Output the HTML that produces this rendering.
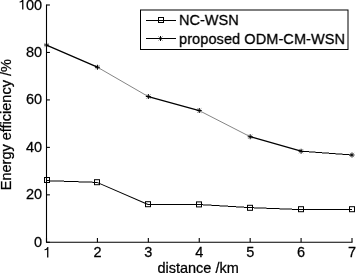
<!DOCTYPE html>
<html><head><meta charset="utf-8"><style>
html,body{margin:0;padding:0;background:#fff;}
svg{display:block;filter:grayscale(1);}
text{font-family:"Liberation Sans",sans-serif;font-size:14.5px;fill:#000;stroke:#000;stroke-width:0.25px;font-variant-ligatures:none;font-feature-settings:"liga" 0,"clig" 0;}
</style></head><body>
<svg width="356" height="273" viewBox="0 0 356 273">
<g transform="scale(1.00001)">
<path d="M46.5 4.5V242.3H352.5" fill="none" stroke="#000" stroke-width="1.1"/>
<path d="M46.5 242.30H49.9" stroke="#000" stroke-width="1.1"/>
<text x="42.2" y="246.70" text-anchor="end">0</text>
<path d="M46.5 194.84H49.9" stroke="#000" stroke-width="1.1"/>
<text x="42.2" y="199.24" text-anchor="end">20</text>
<path d="M46.5 147.38H49.9" stroke="#000" stroke-width="1.1"/>
<text x="42.2" y="151.78" text-anchor="end">40</text>
<path d="M46.5 99.92H49.9" stroke="#000" stroke-width="1.1"/>
<text x="42.2" y="104.32" text-anchor="end">60</text>
<path d="M46.5 52.46H49.9" stroke="#000" stroke-width="1.1"/>
<text x="42.2" y="56.86" text-anchor="end">80</text>
<path d="M46.5 5.00H49.9" stroke="#000" stroke-width="1.1"/>
<path transform="translate(18.01 9.60) scale(0.007080 -0.007080)" d="M763 0L583 0L583 1120Q480 1040 223 1000L223 1150Q420 1190 520 1300Q600 1390 630 1466L763 1466Z"/>
<text x="42.2" y="9.60" text-anchor="end">00</text>
<path d="M46.50 242.3V238" stroke="#000" stroke-width="1.1"/>
<path transform="translate(42.97 257.40) scale(0.007080 -0.007080)" d="M763 0L583 0L583 1120Q480 1040 223 1000L223 1150Q420 1190 520 1300Q600 1390 630 1466L763 1466Z"/>
<path d="M97.42 242.3V238" stroke="#000" stroke-width="1.1"/>
<text x="97.42" y="257.4" text-anchor="middle">2</text>
<path d="M148.33 242.3V238" stroke="#000" stroke-width="1.1"/>
<text x="148.33" y="257.4" text-anchor="middle">3</text>
<path d="M199.25 242.3V238" stroke="#000" stroke-width="1.1"/>
<text x="199.25" y="257.4" text-anchor="middle">4</text>
<path d="M250.17 242.3V238" stroke="#000" stroke-width="1.1"/>
<text x="250.17" y="257.4" text-anchor="middle">5</text>
<path d="M301.08 242.3V238" stroke="#000" stroke-width="1.1"/>
<text x="301.08" y="257.4" text-anchor="middle">6</text>
<path d="M352.00 242.3V238" stroke="#000" stroke-width="1.1"/>
<text x="352.00" y="257.4" text-anchor="middle">7</text>
<text x="198.1" y="272.6" text-anchor="middle">distance /km</text>
<text transform="translate(11 124.7) rotate(-90)" text-anchor="middle">Energy efficiency /%</text>
<path d="M47.0 180.0H50.0V181.0H47.0ZM50.0 180.5H64.0V181.5H50.0ZM64.0 181.0H78.5V182.0H64.0ZM78.5 181.5H92.5V182.5H78.5ZM92.5 182.0H97.0V183.0H92.5Z" fill="#000"/>
<path d="M97 182.4L148 204.5" stroke="#000" stroke-width="1"/>
<path d="M148.0 204.0H199.0V205.0H148.0Z" fill="#000"/>
<path d="M199.0 204.0H203.0V205.0H199.0ZM203.0 204.5H211.5V205.5H203.0ZM211.5 205.0H219.5V206.0H211.5ZM219.5 205.5H228.0V206.5H219.5ZM228.0 206.0H236.0V207.0H228.0ZM236.0 206.5H244.0V207.5H236.0ZM244.0 207.0H250.0V208.0H244.0Z" fill="#000"/>
<path d="M250.0 207.0H254.0V208.0H250.0ZM254.0 207.5H266.5V208.5H254.0ZM266.5 208.0H279.5V209.0H266.5ZM279.5 208.5H292.0V209.5H279.5ZM292.0 209.0H301.0V210.0H292.0Z" fill="#000"/>
<path d="M301.0 209.0H352.0V210.0H301.0Z" fill="#000"/>
<rect x="44.5" y="177.5" width="5" height="5" fill="none" stroke="#000" stroke-width="1"/>
<rect x="94.5" y="179.7" width="5" height="5" fill="none" stroke="#000" stroke-width="1"/>
<rect x="145.5" y="201.7" width="5" height="5" fill="none" stroke="#000" stroke-width="1"/>
<rect x="196.5" y="201.9" width="5" height="5" fill="none" stroke="#000" stroke-width="1"/>
<rect x="247.5" y="205.3" width="5" height="5" fill="none" stroke="#000" stroke-width="1"/>
<rect x="298.5" y="206.7" width="5" height="5" fill="none" stroke="#000" stroke-width="1"/>
<rect x="349.5" y="206.7" width="5" height="5" fill="none" stroke="#000" stroke-width="1"/>
<path d="M46.50 45.10L97.42 67.17" stroke="#000" stroke-width="1.3" stroke-linecap="round"/>
<path d="M97.42 67.17L148.33 96.60" stroke="#666" stroke-width="0.8" stroke-linecap="round"/>
<path d="M148.33 96.60L199.25 110.60" stroke="#000" stroke-width="1.2" stroke-linecap="round"/>
<path d="M199.25 110.60L250.17 136.70" stroke="#666" stroke-width="0.8" stroke-linecap="round"/>
<path d="M250.17 136.70L301.08 151.18" stroke="#000" stroke-width="1.2" stroke-linecap="round"/>
<path d="M301.0 150.5H302.0V151.5H301.0ZM302.0 151.0H309.0V152.0H302.0ZM309.0 151.5H315.5V152.5H309.0ZM315.5 152.0H322.0V153.0H315.5ZM322.0 152.5H329.0V153.5H322.0ZM329.0 153.0H335.5V154.0H329.0ZM335.5 153.5H342.5V154.5H335.5ZM342.5 154.0H349.0V155.0H342.5ZM349.0 154.5H352.0V155.5H349.0Z" fill="#000"/>
<path d="M44.00 45.10H49.00M46.50 42.60V47.60" stroke="#000" stroke-width="1"/><path d="M44.38 42.98L48.62 47.23M44.38 47.23L48.62 42.98" stroke="#000" stroke-opacity="0.5" stroke-width="0.9"/>
<path d="M94.92 67.17H99.92M97.42 64.67V69.67" stroke="#000" stroke-width="1"/><path d="M95.29 65.05L99.54 69.30M95.29 69.30L99.54 65.05" stroke="#000" stroke-opacity="0.5" stroke-width="0.9"/>
<path d="M145.83 96.60H150.83M148.33 94.10V99.10" stroke="#000" stroke-width="1"/><path d="M146.21 94.47L150.46 98.72M146.21 98.72L150.46 94.47" stroke="#000" stroke-opacity="0.5" stroke-width="0.9"/>
<path d="M196.75 110.60H201.75M199.25 108.10V113.10" stroke="#000" stroke-width="1"/><path d="M197.12 108.47L201.38 112.72M197.12 112.72L201.38 108.47" stroke="#000" stroke-opacity="0.5" stroke-width="0.9"/>
<path d="M247.67 136.70H252.67M250.17 134.20V139.20" stroke="#000" stroke-width="1"/><path d="M248.04 134.58L252.29 138.83M248.04 138.83L252.29 134.58" stroke="#000" stroke-opacity="0.5" stroke-width="0.9"/>
<path d="M298.58 151.18H303.58M301.08 148.68V153.68" stroke="#000" stroke-width="1"/><path d="M298.96 149.05L303.21 153.30M298.96 153.30L303.21 149.05" stroke="#000" stroke-opacity="0.5" stroke-width="0.9"/>
<path d="M349.50 154.97H354.50M352.00 152.47V157.47" stroke="#000" stroke-width="1"/><path d="M349.88 152.85L354.12 157.10M349.88 157.10L354.12 152.85" stroke="#000" stroke-opacity="0.5" stroke-width="0.9"/>
<rect x="140.5" y="10" width="207.5" height="39.5" fill="#fff" stroke="#000" stroke-width="1"/>
<path d="M146 20.5H176" stroke="#000" stroke-width="1"/>
<rect x="158.5" y="17.5" width="5" height="5" fill="none" stroke="#000" stroke-width="1"/>
<text x="179.1" y="25">NC-WSN</text>
<path d="M146 38.5H176" stroke="#000" stroke-width="1"/>
<path d="M158.00 38.50H163.00M160.50 36.00V41.00" stroke="#000" stroke-width="1"/><path d="M158.38 36.38L162.62 40.62M158.38 40.62L162.62 36.38" stroke="#000" stroke-opacity="0.5" stroke-width="0.9"/>
<text x="179.0" y="43.5" textLength="166" lengthAdjust="spacing">proposed ODM-CM-WSN</text>
</g>
</svg>
</body></html>
